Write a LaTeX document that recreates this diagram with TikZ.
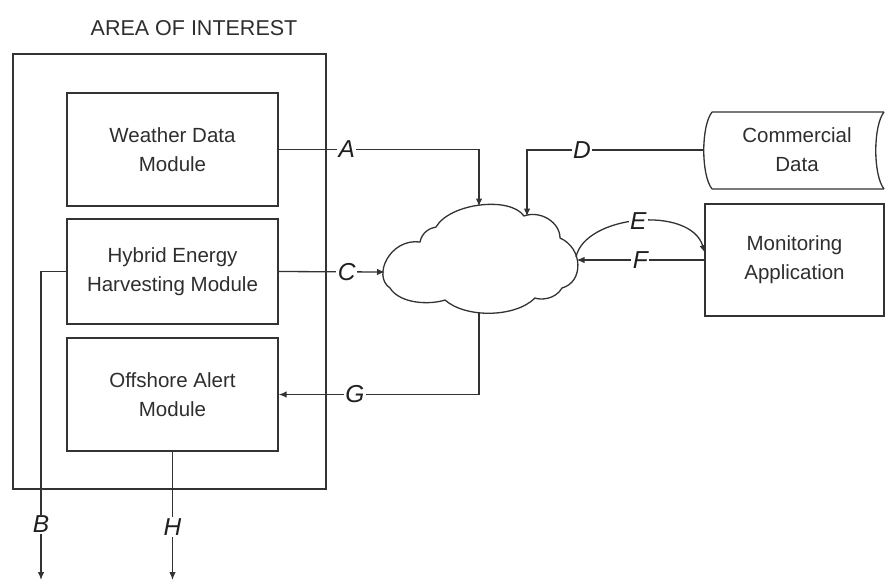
\documentclass[tikz,border=0pt]{standalone}
\usepackage{fontspec}
\setmainfont{Liberation Sans}
\usetikzlibrary{arrows.meta}
\definecolor{ln}{HTML}{333333}
\definecolor{tx}{HTML}{2E2E2E}
\tikzset{
  box/.style={draw=ln, line width=1.3pt, minimum width=211pt, inner sep=0pt, align=center, text=tx, font=\fontsize{20.5}{29}\selectfont},
  plain/.style={inner sep=0pt, align=center, text=tx, font=\fontsize{20.5}{29}\selectfont},
  conn/.style={draw=ln, line width=1.3pt},
  arr/.style={conn, -{Latex[length=8pt,width=6.5pt]}},
  lab/.style={fill=white, inner sep=1.5pt, text=black!88, font=\fontsize{24.5}{24}\selectfont\itshape}
}
\begin{document}
\begin{tikzpicture}[x=1pt,y=-1pt]
\useasboundingbox (0,0) rectangle (885,582);
% title and outer area
\node[plain, font=\fontsize{21.5}{24}\selectfont] (title) at (194,28) {AREA OF INTEREST};
\node[draw=ln, line width=1.3pt, minimum width=313pt, minimum height=435pt, inner sep=0pt] (area) at (169.5,271.5) {};
% modules
\node[box, minimum height=113pt] (weather) at (172.5,149.5) {Weather Data\\Module};
\node[box, minimum height=105pt] (hybrid) at (172.5,271.5) {Hybrid Energy\\Harvesting Module};
\node[box, minimum height=113pt] (offshore) at (172.5,394.5) {Offshore Alert\\Module};
\node[box, minimum width=179pt, minimum height=112pt] (monitor) at (794.5,260) {Monitoring\\Application};
% commercial data (stored data shape)
\node[plain, minimum width=172pt, minimum height=77pt] (commercial) at (797,150) {Commercial\\Data};
\draw[conn] (712,112) -- (884,112) (712,189) -- (884,189)
  (712,112) .. controls (701,126) and (701,175) .. (712,189)
  (884,112) .. controls (873,126) and (873,175) .. (884,189);
\coordinate (cdleft) at (704,150);
% cloud
\draw[conn, fill=white] (390,288)
  .. controls (372,276) and (390,238) .. (420,242)
  .. controls (422,232) and (430,228) .. (436,227)
  .. controls (450,203) and (510,196) .. (524,216)
  .. controls (540,210) and (560,222) .. (560,238)
  .. controls (583,248) and (584,282) .. (562,288)
  .. controls (555,300) and (540,300) .. (535,298)
  .. controls (515,318) and (465,318) .. (445,300)
  .. controls (430,305) and (400,304) .. (390,288) -- cycle;
\coordinate (cloudtop) at (479,206.5);
\coordinate (cloudD) at (527,216.5);
\coordinate (cloudL) at (385,272);
\coordinate (cloudR) at (576.5,260);
\coordinate (cloudRE) at (576,257);
\coordinate (cloudB) at (479,312);
\coordinate (Bend) at (41,580);
\coordinate (Hend) at (172.5,580);
\coordinate (monE) at (705,253);
% connectors
\draw[arr] (weather.east) -| node[lab,pos=0.17]{A} (cloudtop);
\draw[arr] (hybrid.east) -- node[lab,pos=0.64]{C} (cloudL);
\draw[arr] (cdleft) -| node[lab,pos=0.345]{D} (cloudD);
\draw[arr] (cloudRE) .. controls (585,215) and (690,205) .. node[lab,pos=0.5]{E} (monE);
\draw[arr] (monitor.west) -- node[lab,pos=0.5]{F} (cloudR);
\draw[arr] (cloudB) |- node[lab,pos=0.81]{G} (offshore.east);
\draw[arr] (hybrid.west) -| node[lab,pos=0.91]{B} (Bend);
\draw[arr] (offshore.south) -- node[lab,pos=0.59]{H} (Hend);
\end{tikzpicture}
\end{document}
